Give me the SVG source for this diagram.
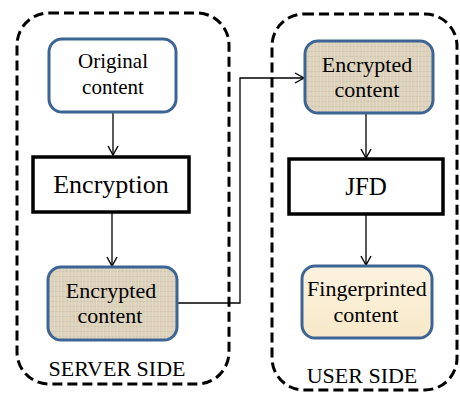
<svg xmlns="http://www.w3.org/2000/svg" width="460" height="393" viewBox="0 0 460 393">
  <style>
    .zone { fill: none; stroke: #000; stroke-width: 3; stroke-dasharray: 10 5; }
    .content { stroke: #3C6494; stroke-width: 3; }
    .step { fill: #fff; stroke: #000; stroke-width: 3.5; }
    .label { font-family: "Liberation Serif", "Times New Roman", serif; fill: #000; text-anchor: middle; }
    .link { fill: none; stroke: #000; stroke-width: 1.3; }
  </style>
  <defs>
    <!-- woven linen texture for encrypted data -->
    <pattern id="linen" width="7" height="5" patternUnits="userSpaceOnUse">
      <rect width="7" height="5" fill="#DCD2BC"/>
      <path d="M0 1.5H7" stroke="#CDC1A8" stroke-width="0.7"/>
      <path d="M2 0V5M5.5 0V5" stroke="#E6DDCA" stroke-width="0.7"/>
    </pattern>
    <linearGradient id="cream" x1="0" y1="0" x2="0" y2="1">
      <stop offset="0" stop-color="#FCF3DF"/>
      <stop offset="1" stop-color="#F7E8C8"/>
    </linearGradient>
    <marker id="arrow" markerWidth="14" markerHeight="14" refX="10" refY="6" orient="auto" markerUnits="userSpaceOnUse">
      <path d="M1 1L10 6L1 11" fill="none" stroke="#000" stroke-width="1.4"/>
    </marker>
  </defs>

  <!-- side boundaries -->
  <g id="server-side">
    <rect class="zone" x="17" y="13" width="212" height="371" rx="32"/>
    <text class="label" x="117" y="376" font-size="22">SERVER SIDE</text>
  </g>
  <g id="user-side">
    <rect class="zone" x="272" y="14" width="185" height="376" rx="32"/>
    <text class="label" x="362" y="383" font-size="22">USER SIDE</text>
  </g>

  <!-- connectors -->
  <g id="connectors">
    <line class="link" x1="113" y1="112" x2="113" y2="155" marker-end="url(#arrow)"/>
    <line class="link" x1="112" y1="212" x2="112" y2="266" marker-end="url(#arrow)"/>
    <polyline class="link" points="177,303 240,303 240,78 304,78" marker-end="url(#arrow)"/>
    <line class="link" x1="366" y1="113" x2="366" y2="158" marker-end="url(#arrow)"/>
    <line class="link" x1="366" y1="214" x2="366" y2="265" marker-end="url(#arrow)"/>
  </g>

  <!-- server nodes -->
  <g id="original-content">
    <rect class="content" x="49" y="39" width="127" height="73" rx="13" fill="#fff"/>
    <text class="label" x="113" y="68" font-size="21">Original</text>
    <text class="label" x="113" y="94" font-size="21">content</text>
  </g>
  <g id="encryption">
    <rect class="step" x="33" y="157" width="156" height="55"/>
    <text class="label" x="111" y="193" font-size="26">Encryption</text>
  </g>
  <g id="encrypted-server">
    <rect class="content" x="48" y="267" width="129" height="73" rx="13" fill="url(#linen)"/>
    <text class="label" x="111" y="298" font-size="22">Encrypted</text>
    <text class="label" x="110" y="323" font-size="22">content</text>
  </g>

  <!-- user nodes -->
  <g id="encrypted-user">
    <rect class="content" x="305" y="41" width="128" height="72" rx="13" fill="url(#linen)"/>
    <text class="label" x="367" y="72" font-size="22">Encrypted</text>
    <text class="label" x="367" y="97" font-size="22">content</text>
  </g>
  <g id="jfd">
    <rect class="step" x="289" y="159" width="154" height="55"/>
    <text class="label" x="366" y="195" font-size="25">JFD</text>
  </g>
  <g id="fingerprinted-content">
    <rect class="content" x="302" y="266" width="130" height="72" rx="13" fill="url(#cream)"/>
    <text class="label" x="367" y="296" font-size="22">Fingerprinted</text>
    <text class="label" x="366" y="322" font-size="22">content</text>
  </g>
</svg>
